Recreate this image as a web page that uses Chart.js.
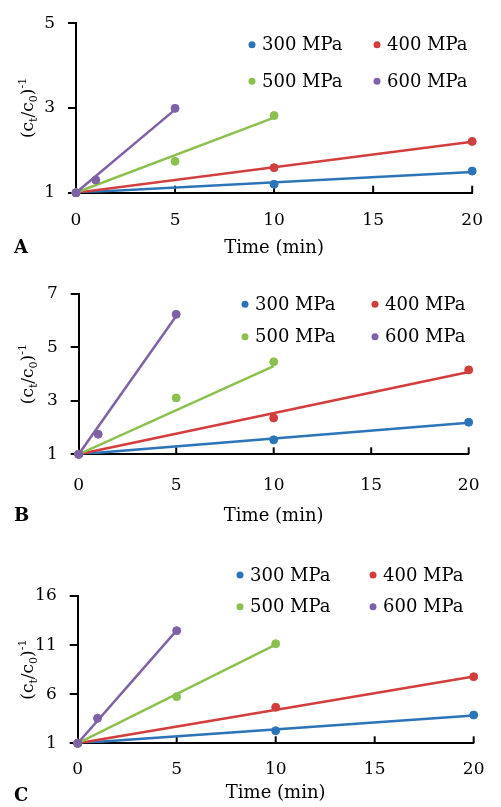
<!DOCTYPE html>
<html>
<head>
<meta charset="utf-8">
<script src="https://cdn.jsdelivr.net/npm/chart.js@4.4.0/dist/chart.umd.min.js"></script>
<style>
  body { margin: 0; background: #fff; }
  canvas { display: block; }
</style>
</head>
<body>
<canvas id="A" width="501" height="270"></canvas>
<canvas id="B" width="501" height="270"></canvas>
<canvas id="C" width="501" height="267"></canvas>
<script>
// series and sampling times (min)
var series = ['300 MPa', '400 MPa', '500 MPa', '600 MPa'];
var colors = ['#2c74b8', '#d23d3d', '#8cc04e', '#7f61a6'];
var times300 = [0, 10, 20];
var times400 = [0, 10, 20];
var times500 = [0, 5, 10];
var times600 = [0, 1, 5];
var times = [times300, times400, times500, times600];

// (ct/c0)^-1 values, one list per series
var valuesA = [[1, 1.2, 1.51], [1, 1.59, 2.21], [1, 1.74, 2.82], [1, 1.3, 2.99]];
var valuesB = [[1, 1.54, 2.2], [1, 2.36, 4.16], [1, 3.11, 4.46], [1, 1.75, 6.24]];
var valuesC = [[1, 2.28, 3.88], [1, 4.67, 7.78], [1, 5.75, 11.14], [1, 3.55, 12.47]];

// trend lines start at (0,1) and end at the last time with these values
var trendEndA = [1.49, 2.2, 2.77, 2.96];
var trendEndB = [2.18, 4.08, 4.3, 6.18];
var trendEndC = [3.82, 7.8, 11.05, 12.5];

// tick labels
var xTicks = [0, 5, 10, 15, 20];
var yTicksA = [1, 3, 5];
var yTicksB = [1, 3, 5, 7];
var yTicksC = [1, 6, 11, 16];

Chart.defaults.font.family = '"DejaVu Serif", serif';
Chart.defaults.color = '#000';

function drawYTitle(ctx, cx, cy) {
  var parts = [['(c', 0], ['t', 1], ['/c', 0], ['0', 1], [')', 0], ['-1', 2]];
  var big = '17px "DejaVu Serif"', small = '11px "DejaVu Serif"';
  ctx.save();
  ctx.translate(cx, cy);
  ctx.rotate(-Math.PI / 2);
  var w = 0;
  parts.forEach(function (p) { ctx.font = p[1] ? small : big; w += ctx.measureText(p[0]).width; });
  var xx = -w / 2;
  ctx.fillStyle = '#000';
  ctx.textBaseline = 'alphabetic';
  parts.forEach(function (p) {
    ctx.font = p[1] ? small : big;
    var dy = p[1] === 1 ? 4 : (p[1] === 2 ? -7 : 0);
    ctx.fillText(p[0], xx, 6 + dy);
    xx += ctx.measureText(p[0]).width;
  });
  ctx.restore();
}

var decor = {
  id: 'decor',
  beforeDatasetsDraw: function (chart) {
    // x ticks point inward
    var ctx = chart.ctx, x = chart.scales.x, area = chart.chartArea;
    ctx.save();
    ctx.strokeStyle = '#000';
    ctx.lineWidth = 2;
    xTicks.forEach(function (v) {
      if (v === 0) return;
      var px = x.getPixelForValue(v);
      ctx.beginPath();
      ctx.moveTo(px, area.bottom);
      ctx.lineTo(px, area.bottom - 7);
      ctx.stroke();
    });
    ctx.restore();
  },
  afterDraw: function (chart) {
    var ctx = chart.ctx, box = chart.options.plugins.decor, area = chart.chartArea;
    drawYTitle(ctx, 27, (area.top + area.bottom) / 2);
    ctx.save();
    // legend, 2 x 2
    ctx.font = '18px "DejaVu Serif"';
    ctx.textBaseline = 'middle';
    series.forEach(function (name, i) {
      var dx = box.legX[i % 2], dy = box.legY[Math.floor(i / 2)];
      ctx.fillStyle = colors[i];
      ctx.beginPath();
      ctx.arc(dx, dy, 3.5, 0, Math.PI * 2);
      ctx.fill();
      ctx.fillStyle = '#000';
      ctx.fillText(name, dx + 10, dy + 1);
    });
    // panel letter
    ctx.font = 'bold 18px "DejaVu Serif"';
    ctx.fillText(box.label, 14, box.labelY);
    ctx.restore();
  }
};

function makePanel(id, values, trendEnd, yTicks, box) {
  var datasets = [];
  series.forEach(function (name, i) {
    datasets.push({
      type: 'scatter',
      label: name,
      data: times[i].map(function (t, j) { return { x: t, y: values[i][j] }; }),
      backgroundColor: colors[i],
      borderColor: colors[i],
      pointRadius: 4,
      showLine: false,
      clip: false,
      order: 4 - i
    });
    datasets.push({
      type: 'line',
      label: name + ' trend',
      data: [{ x: 0, y: 1 }, { x: times[i][times[i].length - 1], y: trendEnd[i] }],
      borderColor: colors[i],
      borderWidth: 2.5,
      pointRadius: 0,
      fill: false,
      order: 10 - i
    });
  });

  new Chart(document.getElementById(id), {
    type: 'scatter',
    data: { datasets: datasets },
    options: {
      responsive: false,
      animation: false,
      layout: { padding: { left: 0, top: box.top, right: 501 - box.right, bottom: 0 } },
      plugins: { legend: { display: false }, tooltip: { enabled: false }, decor: box },
      scales: {
        x: {
          type: 'linear', min: 0, max: 20,
          afterBuildTicks: function (s) { s.ticks = xTicks.map(function (v) { return { value: v }; }); },
          afterFit: function (s) { s.height = box.h - box.bottom; },
          grid: { display: false, drawTicks: false },
          border: { display: true, color: '#000', width: 2 },
          ticks: { font: { size: 17 }, padding: box.tickPad, maxRotation: 0 },
          title: { display: true, text: 'Time (min)', font: { size: 18 }, padding: { top: 0, bottom: box.titlePad } }
        },
        y: {
          type: 'linear', min: yTicks[0], max: yTicks[yTicks.length - 1],
          afterBuildTicks: function (s) { s.ticks = yTicks.map(function (v) { return { value: v }; }); },
          afterFit: function (s) { s.width = box.left; },
          grid: { drawOnChartArea: false, drawTicks: true, tickLength: 8, color: '#000', lineWidth: 2 },
          border: { display: true, color: '#000', width: 2 },
          ticks: { font: { size: 17 }, padding: 13 }
        }
      }
    },
    plugins: [decor]
  });
}

makePanel('A', valuesA, trendEndA, yTicksA,
  { left: 76, right: 489, top: 20.7, bottom: 192.7, h: 270, tickPad: 18, titlePad: 11,
    legX: [252, 377], legY: [44.7, 81.3], label: 'A', labelY: 248 });
makePanel('B', valuesB, trendEndB, yTicksB,
  { left: 78.7, right: 489.3, top: 24, bottom: 184.3, h: 270, tickPad: 21.5, titlePad: 12.5,
    legX: [245, 375], legY: [34.3, 66.7], label: 'B', labelY: 246.7 });
makePanel('C', valuesC, trendEndC, yTicksC,
  { left: 77.7, right: 489, top: 56, bottom: 203.3, h: 267, tickPad: 16.5, titlePad: 3,
    legX: [240, 373], legY: [35, 66.7], label: 'C', labelY: 256.7 });
</script>
</body>
</html>
